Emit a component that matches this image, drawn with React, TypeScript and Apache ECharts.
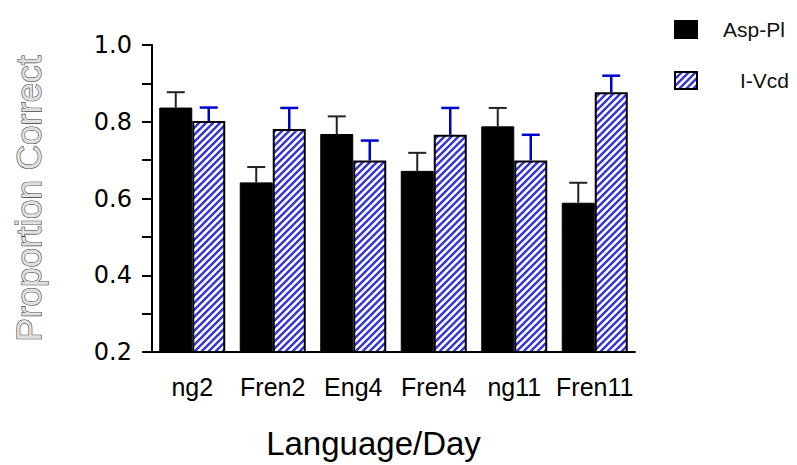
import React, { useEffect, useRef } from "react";
import * as echarts from "echarts";

const categories = ["ng2", "Fren2", "Eng4", "Fren4", "ng11", "Fren11"];
const aspPl = [0.837, 0.642, 0.768, 0.672, 0.788, 0.589];
const aspPlErr = [0.04, 0.04, 0.046, 0.047, 0.048, 0.052];
const iVcd = [0.802, 0.781, 0.699, 0.766, 0.699, 0.877];
const iVcdErr = [0.035, 0.055, 0.052, 0.07, 0.067, 0.043];
const yTicks = { min: 0.2, max: 1.0, interval: 0.2 };

const FONT = "Liberation Sans, Arial, sans-serif";
const BAR_W = 33;

function makeHatch(): HTMLCanvasElement {
  const s = 7;
  const c = document.createElement("canvas");
  c.width = s;
  c.height = s;
  const ctx = c.getContext("2d")!;
  ctx.fillStyle = "#ffffff";
  ctx.fillRect(0, 0, s, s);
  ctx.strokeStyle = "#3434d8";
  ctx.lineWidth = 2.4;
  ctx.beginPath();
  ctx.moveTo(-1, 1);
  ctx.lineTo(1, -1);
  ctx.moveTo(0, s);
  ctx.lineTo(s, 0);
  ctx.moveTo(s - 1, s + 1);
  ctx.lineTo(s + 1, s - 1);
  ctx.stroke();
  return c;
}

function errSeries(name: string, vals: number[], errs: number[], side: number, color: string, width: number) {
  return {
    name,
    type: "custom",
    z: 5,
    silent: true,
    data: vals.map((v, i) => [i, v, errs[i]]),
    encode: { x: 0, y: 1 },
    renderItem: (params: any, api: any) => {
      const i = api.value(0);
      const v = api.value(1);
      const e = api.value(2);
      const p0 = api.coord([i, v]);
      const p1 = api.coord([i, v + e]);
      const x = p0[0] + side * (BAR_W / 2);
      const cap = 9;
      return {
        type: "group",
        children: [
          { type: "line", shape: { x1: x, y1: p0[1], x2: x, y2: p1[1] }, style: { stroke: color, lineWidth: width } },
          { type: "line", shape: { x1: x - cap, y1: p1[1], x2: x + cap, y2: p1[1] }, style: { stroke: color, lineWidth: width } },
        ],
      };
    },
  };
}

export default function App() {
  const ref = useRef<HTMLDivElement>(null);
  useEffect(() => {
    if (!ref.current) return;
    const chart = echarts.init(ref.current, null, { renderer: "svg" });
    const hatch = { image: makeHatch(), repeat: "repeat" };
    chart.setOption({
      animation: false,
      backgroundColor: "#ffffff",
      textStyle: { fontFamily: FONT },
      legend: {
        orient: "vertical",
        left: 669,
        top: 14,
        icon: "rect",
        itemWidth: 22,
        itemHeight: 17,
        itemGap: 30,
        data: ["Asp-Pl", "I-Vcd"],
        formatter: (n: string) => (n === "Asp-Pl" ? "{a|" + n + "}" : "{b|" + n + "}"),
        textStyle: {
          fontFamily: FONT,
          fontSize: 21,
          color: "#111",
          rich: {
            a: { fontFamily: FONT, fontSize: 21, color: "#111", padding: [0, 0, 0, 21] },
            b: { fontFamily: FONT, fontSize: 21, color: "#111", padding: [0, 0, 0, 38] },
          },
        },
      },
      grid: { left: 152, right: 162, top: 45, bottom: 112, containLabel: false },
      xAxis: {
        type: "category",
        data: categories,
        name: "Language/Day",
        nameLocation: "middle",
        nameGap: 75,
        nameTextStyle: { fontFamily: FONT, fontSize: 33, color: "#000", padding: [0, 40, 0, 0] },
        axisLine: { lineStyle: { color: "#000", width: 2 } },
        axisTick: { alignWithLabel: true, length: 12, lineStyle: { color: "#000", width: 2 } },
        axisLabel: { fontFamily: FONT, fontSize: 25, color: "#000", margin: 22, interval: 0 },
        splitLine: { show: false },
      },
      yAxis: {
        type: "value",
        min: yTicks.min,
        max: yTicks.max,
        interval: yTicks.interval,
        name: "Proportion Correct",
        nameLocation: "middle",
        nameGap: 106,
        nameTextStyle: {
          fontFamily: FONT,
          fontSize: 35,
          color: "#e0e0e0",
          textBorderColor: "#333",
          textBorderWidth: 1.1,
        },
        axisLine: { show: true, lineStyle: { color: "#000", width: 2 } },
        axisTick: { show: true, length: 10, lineStyle: { color: "#000", width: 2 } },
        minorTick: { show: true, splitNumber: 2, length: 10, lineStyle: { color: "#000", width: 2 } },
        axisLabel: {
          fontFamily: "DejaVu Sans, sans-serif",
          fontSize: 24,
          color: "#000",
          margin: 20,
          formatter: (v: number) => v.toFixed(1),
        },
        splitLine: { show: false },
      },
      series: [
        {
          name: "Asp-Pl",
          type: "bar",
          barWidth: BAR_W,
          barGap: "0%",
          itemStyle: { color: "#000000", borderColor: "#000", borderWidth: 1 },
          data: aspPl,
        },
        {
          name: "I-Vcd",
          type: "bar",
          barWidth: BAR_W,
          barGap: "0%",
          itemStyle: { color: hatch, borderColor: "#000", borderWidth: 2 },
          data: iVcd,
        },
        errSeries("err-asp", aspPl, aspPlErr, -1, "#222222", 2),
        errSeries("err-ivcd", iVcd, iVcdErr, 1, "#0000cc", 2.5),
      ],
    });
    return () => chart.dispose();
  }, []);
  return <div ref={ref} style={{ position: "absolute", left: 0, top: 0, width: 797, height: 465 }} />;
}
